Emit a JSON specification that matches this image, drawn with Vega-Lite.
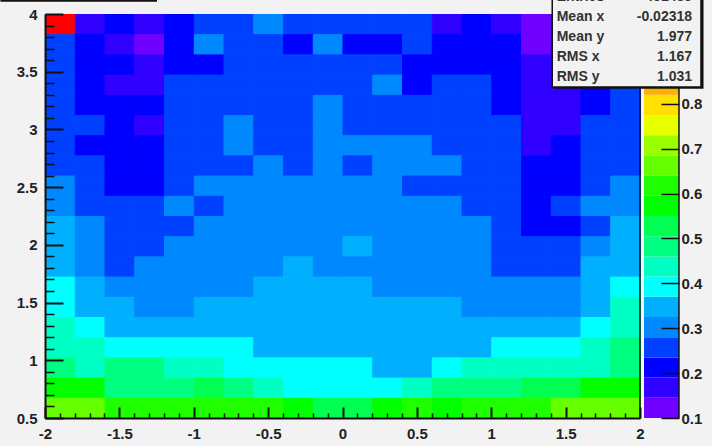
{"$schema":"https://vega.github.io/schema/vega-lite/v6.json","width":595,"height":404,"autosize":{"type":"none"},"padding":{"left":45,"top":14,"right":72,"bottom":28},"background":"#f2f2f2","config":{"view":{"stroke":null},"axis":{"grid":false,"title":null,"labelFont":"Liberation Sans","labelFontWeight":"bold","labelFontSize":15,"labelColor":"#222222","tickColor":"#111111","domainColor":"#111111"}},"datasets":{"cells":[
{"x":-1.9,"y":3.9125,"z":1.0},{"x":-1.7,"y":3.9125,"z":0.17},{"x":-1.5,"y":3.9125,"z":0.21},{"x":-1.3,"y":3.9125,"z":0.17},{"x":-1.1,"y":3.9125,"z":0.21},{"x":-0.9,"y":3.9125,"z":0.26},{"x":-0.7,"y":3.9125,"z":0.26},{"x":-0.5,"y":3.9125,"z":0.3},{"x":-0.3,"y":3.9125,"z":0.26},{"x":-0.1,"y":3.9125,"z":0.26},{"x":0.1,"y":3.9125,"z":0.26},{"x":0.3,"y":3.9125,"z":0.26},{"x":0.5,"y":3.9125,"z":0.26},{"x":0.7,"y":3.9125,"z":0.17},{"x":0.9,"y":3.9125,"z":0.21},{"x":1.1,"y":3.9125,"z":0.17},{"x":1.3,"y":3.9125,"z":0.12},{"x":1.5,"y":3.9125,"z":0.17},{"x":1.7,"y":3.9125,"z":0.21},{"x":1.9,"y":3.9125,"z":0.26},
{"x":-1.9,"y":3.7375,"z":0.26},{"x":-1.7,"y":3.7375,"z":0.21},{"x":-1.5,"y":3.7375,"z":0.17},{"x":-1.3,"y":3.7375,"z":0.12},{"x":-1.1,"y":3.7375,"z":0.21},{"x":-0.9,"y":3.7375,"z":0.3},{"x":-0.7,"y":3.7375,"z":0.26},{"x":-0.5,"y":3.7375,"z":0.26},{"x":-0.3,"y":3.7375,"z":0.21},{"x":-0.1,"y":3.7375,"z":0.3},{"x":0.1,"y":3.7375,"z":0.21},{"x":0.3,"y":3.7375,"z":0.21},{"x":0.5,"y":3.7375,"z":0.26},{"x":0.7,"y":3.7375,"z":0.21},{"x":0.9,"y":3.7375,"z":0.21},{"x":1.1,"y":3.7375,"z":0.21},{"x":1.3,"y":3.7375,"z":0.12},{"x":1.5,"y":3.7375,"z":0.17},{"x":1.7,"y":3.7375,"z":0.21},{"x":1.9,"y":3.7375,"z":0.26},
{"x":-1.9,"y":3.5625,"z":0.26},{"x":-1.7,"y":3.5625,"z":0.21},{"x":-1.5,"y":3.5625,"z":0.21},{"x":-1.3,"y":3.5625,"z":0.17},{"x":-1.1,"y":3.5625,"z":0.21},{"x":-0.9,"y":3.5625,"z":0.21},{"x":-0.7,"y":3.5625,"z":0.26},{"x":-0.5,"y":3.5625,"z":0.26},{"x":-0.3,"y":3.5625,"z":0.26},{"x":-0.1,"y":3.5625,"z":0.26},{"x":0.1,"y":3.5625,"z":0.26},{"x":0.3,"y":3.5625,"z":0.26},{"x":0.5,"y":3.5625,"z":0.21},{"x":0.7,"y":3.5625,"z":0.21},{"x":0.9,"y":3.5625,"z":0.21},{"x":1.1,"y":3.5625,"z":0.21},{"x":1.3,"y":3.5625,"z":0.17},{"x":1.5,"y":3.5625,"z":0.17},{"x":1.7,"y":3.5625,"z":0.21},{"x":1.9,"y":3.5625,"z":0.26},
{"x":-1.9,"y":3.3875,"z":0.26},{"x":-1.7,"y":3.3875,"z":0.21},{"x":-1.5,"y":3.3875,"z":0.17},{"x":-1.3,"y":3.3875,"z":0.17},{"x":-1.1,"y":3.3875,"z":0.26},{"x":-0.9,"y":3.3875,"z":0.26},{"x":-0.7,"y":3.3875,"z":0.26},{"x":-0.5,"y":3.3875,"z":0.26},{"x":-0.3,"y":3.3875,"z":0.26},{"x":-0.1,"y":3.3875,"z":0.26},{"x":0.1,"y":3.3875,"z":0.26},{"x":0.3,"y":3.3875,"z":0.3},{"x":0.5,"y":3.3875,"z":0.21},{"x":0.7,"y":3.3875,"z":0.26},{"x":0.9,"y":3.3875,"z":0.26},{"x":1.1,"y":3.3875,"z":0.21},{"x":1.3,"y":3.3875,"z":0.17},{"x":1.5,"y":3.3875,"z":0.17},{"x":1.7,"y":3.3875,"z":0.21},{"x":1.9,"y":3.3875,"z":0.26},
{"x":-1.9,"y":3.2125,"z":0.26},{"x":-1.7,"y":3.2125,"z":0.21},{"x":-1.5,"y":3.2125,"z":0.21},{"x":-1.3,"y":3.2125,"z":0.21},{"x":-1.1,"y":3.2125,"z":0.26},{"x":-0.9,"y":3.2125,"z":0.26},{"x":-0.7,"y":3.2125,"z":0.26},{"x":-0.5,"y":3.2125,"z":0.26},{"x":-0.3,"y":3.2125,"z":0.26},{"x":-0.1,"y":3.2125,"z":0.3},{"x":0.1,"y":3.2125,"z":0.26},{"x":0.3,"y":3.2125,"z":0.26},{"x":0.5,"y":3.2125,"z":0.26},{"x":0.7,"y":3.2125,"z":0.26},{"x":0.9,"y":3.2125,"z":0.26},{"x":1.1,"y":3.2125,"z":0.21},{"x":1.3,"y":3.2125,"z":0.17},{"x":1.5,"y":3.2125,"z":0.17},{"x":1.7,"y":3.2125,"z":0.21},{"x":1.9,"y":3.2125,"z":0.26},
{"x":-1.9,"y":3.0375,"z":0.26},{"x":-1.7,"y":3.0375,"z":0.26},{"x":-1.5,"y":3.0375,"z":0.21},{"x":-1.3,"y":3.0375,"z":0.17},{"x":-1.1,"y":3.0375,"z":0.26},{"x":-0.9,"y":3.0375,"z":0.26},{"x":-0.7,"y":3.0375,"z":0.3},{"x":-0.5,"y":3.0375,"z":0.26},{"x":-0.3,"y":3.0375,"z":0.26},{"x":-0.1,"y":3.0375,"z":0.3},{"x":0.1,"y":3.0375,"z":0.26},{"x":0.3,"y":3.0375,"z":0.26},{"x":0.5,"y":3.0375,"z":0.26},{"x":0.7,"y":3.0375,"z":0.26},{"x":0.9,"y":3.0375,"z":0.26},{"x":1.1,"y":3.0375,"z":0.26},{"x":1.3,"y":3.0375,"z":0.17},{"x":1.5,"y":3.0375,"z":0.17},{"x":1.7,"y":3.0375,"z":0.26},{"x":1.9,"y":3.0375,"z":0.26},
{"x":-1.9,"y":2.8625,"z":0.26},{"x":-1.7,"y":2.8625,"z":0.21},{"x":-1.5,"y":2.8625,"z":0.21},{"x":-1.3,"y":2.8625,"z":0.21},{"x":-1.1,"y":2.8625,"z":0.26},{"x":-0.9,"y":2.8625,"z":0.26},{"x":-0.7,"y":2.8625,"z":0.3},{"x":-0.5,"y":2.8625,"z":0.26},{"x":-0.3,"y":2.8625,"z":0.26},{"x":-0.1,"y":2.8625,"z":0.3},{"x":0.1,"y":2.8625,"z":0.3},{"x":0.3,"y":2.8625,"z":0.3},{"x":0.5,"y":2.8625,"z":0.3},{"x":0.7,"y":2.8625,"z":0.26},{"x":0.9,"y":2.8625,"z":0.26},{"x":1.1,"y":2.8625,"z":0.26},{"x":1.3,"y":2.8625,"z":0.17},{"x":1.5,"y":2.8625,"z":0.21},{"x":1.7,"y":2.8625,"z":0.26},{"x":1.9,"y":2.8625,"z":0.26},
{"x":-1.9,"y":2.6875,"z":0.26},{"x":-1.7,"y":2.6875,"z":0.26},{"x":-1.5,"y":2.6875,"z":0.21},{"x":-1.3,"y":2.6875,"z":0.21},{"x":-1.1,"y":2.6875,"z":0.26},{"x":-0.9,"y":2.6875,"z":0.26},{"x":-0.7,"y":2.6875,"z":0.26},{"x":-0.5,"y":2.6875,"z":0.3},{"x":-0.3,"y":2.6875,"z":0.26},{"x":-0.1,"y":2.6875,"z":0.3},{"x":0.1,"y":2.6875,"z":0.26},{"x":0.3,"y":2.6875,"z":0.3},{"x":0.5,"y":2.6875,"z":0.3},{"x":0.7,"y":2.6875,"z":0.3},{"x":0.9,"y":2.6875,"z":0.26},{"x":1.1,"y":2.6875,"z":0.26},{"x":1.3,"y":2.6875,"z":0.21},{"x":1.5,"y":2.6875,"z":0.21},{"x":1.7,"y":2.6875,"z":0.26},{"x":1.9,"y":2.6875,"z":0.26},
{"x":-1.9,"y":2.5125,"z":0.3},{"x":-1.7,"y":2.5125,"z":0.26},{"x":-1.5,"y":2.5125,"z":0.21},{"x":-1.3,"y":2.5125,"z":0.21},{"x":-1.1,"y":2.5125,"z":0.26},{"x":-0.9,"y":2.5125,"z":0.3},{"x":-0.7,"y":2.5125,"z":0.3},{"x":-0.5,"y":2.5125,"z":0.3},{"x":-0.3,"y":2.5125,"z":0.3},{"x":-0.1,"y":2.5125,"z":0.3},{"x":0.1,"y":2.5125,"z":0.3},{"x":0.3,"y":2.5125,"z":0.3},{"x":0.5,"y":2.5125,"z":0.26},{"x":0.7,"y":2.5125,"z":0.26},{"x":0.9,"y":2.5125,"z":0.26},{"x":1.1,"y":2.5125,"z":0.26},{"x":1.3,"y":2.5125,"z":0.21},{"x":1.5,"y":2.5125,"z":0.21},{"x":1.7,"y":2.5125,"z":0.26},{"x":1.9,"y":2.5125,"z":0.3},
{"x":-1.9,"y":2.3375,"z":0.3},{"x":-1.7,"y":2.3375,"z":0.26},{"x":-1.5,"y":2.3375,"z":0.26},{"x":-1.3,"y":2.3375,"z":0.26},{"x":-1.1,"y":2.3375,"z":0.3},{"x":-0.9,"y":2.3375,"z":0.26},{"x":-0.7,"y":2.3375,"z":0.3},{"x":-0.5,"y":2.3375,"z":0.3},{"x":-0.3,"y":2.3375,"z":0.3},{"x":-0.1,"y":2.3375,"z":0.3},{"x":0.1,"y":2.3375,"z":0.3},{"x":0.3,"y":2.3375,"z":0.3},{"x":0.5,"y":2.3375,"z":0.3},{"x":0.7,"y":2.3375,"z":0.3},{"x":0.9,"y":2.3375,"z":0.26},{"x":1.1,"y":2.3375,"z":0.26},{"x":1.3,"y":2.3375,"z":0.21},{"x":1.5,"y":2.3375,"z":0.26},{"x":1.7,"y":2.3375,"z":0.3},{"x":1.9,"y":2.3375,"z":0.3},
{"x":-1.9,"y":2.1625,"z":0.35},{"x":-1.7,"y":2.1625,"z":0.3},{"x":-1.5,"y":2.1625,"z":0.26},{"x":-1.3,"y":2.1625,"z":0.26},{"x":-1.1,"y":2.1625,"z":0.26},{"x":-0.9,"y":2.1625,"z":0.3},{"x":-0.7,"y":2.1625,"z":0.3},{"x":-0.5,"y":2.1625,"z":0.3},{"x":-0.3,"y":2.1625,"z":0.3},{"x":-0.1,"y":2.1625,"z":0.3},{"x":0.1,"y":2.1625,"z":0.3},{"x":0.3,"y":2.1625,"z":0.3},{"x":0.5,"y":2.1625,"z":0.3},{"x":0.7,"y":2.1625,"z":0.3},{"x":0.9,"y":2.1625,"z":0.3},{"x":1.1,"y":2.1625,"z":0.26},{"x":1.3,"y":2.1625,"z":0.21},{"x":1.5,"y":2.1625,"z":0.21},{"x":1.7,"y":2.1625,"z":0.26},{"x":1.9,"y":2.1625,"z":0.35},
{"x":-1.9,"y":1.9875,"z":0.35},{"x":-1.7,"y":1.9875,"z":0.3},{"x":-1.5,"y":1.9875,"z":0.26},{"x":-1.3,"y":1.9875,"z":0.26},{"x":-1.1,"y":1.9875,"z":0.3},{"x":-0.9,"y":1.9875,"z":0.3},{"x":-0.7,"y":1.9875,"z":0.3},{"x":-0.5,"y":1.9875,"z":0.3},{"x":-0.3,"y":1.9875,"z":0.3},{"x":-0.1,"y":1.9875,"z":0.3},{"x":0.1,"y":1.9875,"z":0.35},{"x":0.3,"y":1.9875,"z":0.3},{"x":0.5,"y":1.9875,"z":0.3},{"x":0.7,"y":1.9875,"z":0.3},{"x":0.9,"y":1.9875,"z":0.3},{"x":1.1,"y":1.9875,"z":0.26},{"x":1.3,"y":1.9875,"z":0.26},{"x":1.5,"y":1.9875,"z":0.26},{"x":1.7,"y":1.9875,"z":0.3},{"x":1.9,"y":1.9875,"z":0.35},
{"x":-1.9,"y":1.8125,"z":0.35},{"x":-1.7,"y":1.8125,"z":0.3},{"x":-1.5,"y":1.8125,"z":0.26},{"x":-1.3,"y":1.8125,"z":0.3},{"x":-1.1,"y":1.8125,"z":0.3},{"x":-0.9,"y":1.8125,"z":0.3},{"x":-0.7,"y":1.8125,"z":0.3},{"x":-0.5,"y":1.8125,"z":0.3},{"x":-0.3,"y":1.8125,"z":0.35},{"x":-0.1,"y":1.8125,"z":0.3},{"x":0.1,"y":1.8125,"z":0.3},{"x":0.3,"y":1.8125,"z":0.3},{"x":0.5,"y":1.8125,"z":0.3},{"x":0.7,"y":1.8125,"z":0.3},{"x":0.9,"y":1.8125,"z":0.3},{"x":1.1,"y":1.8125,"z":0.26},{"x":1.3,"y":1.8125,"z":0.26},{"x":1.5,"y":1.8125,"z":0.26},{"x":1.7,"y":1.8125,"z":0.35},{"x":1.9,"y":1.8125,"z":0.35},
{"x":-1.9,"y":1.6375,"z":0.39},{"x":-1.7,"y":1.6375,"z":0.35},{"x":-1.5,"y":1.6375,"z":0.3},{"x":-1.3,"y":1.6375,"z":0.3},{"x":-1.1,"y":1.6375,"z":0.3},{"x":-0.9,"y":1.6375,"z":0.3},{"x":-0.7,"y":1.6375,"z":0.3},{"x":-0.5,"y":1.6375,"z":0.35},{"x":-0.3,"y":1.6375,"z":0.35},{"x":-0.1,"y":1.6375,"z":0.35},{"x":0.1,"y":1.6375,"z":0.35},{"x":0.3,"y":1.6375,"z":0.3},{"x":0.5,"y":1.6375,"z":0.3},{"x":0.7,"y":1.6375,"z":0.3},{"x":0.9,"y":1.6375,"z":0.3},{"x":1.1,"y":1.6375,"z":0.3},{"x":1.3,"y":1.6375,"z":0.3},{"x":1.5,"y":1.6375,"z":0.3},{"x":1.7,"y":1.6375,"z":0.35},{"x":1.9,"y":1.6375,"z":0.39},
{"x":-1.9,"y":1.4625,"z":0.39},{"x":-1.7,"y":1.4625,"z":0.35},{"x":-1.5,"y":1.4625,"z":0.35},{"x":-1.3,"y":1.4625,"z":0.3},{"x":-1.1,"y":1.4625,"z":0.3},{"x":-0.9,"y":1.4625,"z":0.35},{"x":-0.7,"y":1.4625,"z":0.35},{"x":-0.5,"y":1.4625,"z":0.35},{"x":-0.3,"y":1.4625,"z":0.35},{"x":-0.1,"y":1.4625,"z":0.35},{"x":0.1,"y":1.4625,"z":0.35},{"x":0.3,"y":1.4625,"z":0.35},{"x":0.5,"y":1.4625,"z":0.35},{"x":0.7,"y":1.4625,"z":0.35},{"x":0.9,"y":1.4625,"z":0.3},{"x":1.1,"y":1.4625,"z":0.3},{"x":1.3,"y":1.4625,"z":0.3},{"x":1.5,"y":1.4625,"z":0.3},{"x":1.7,"y":1.4625,"z":0.35},{"x":1.9,"y":1.4625,"z":0.44},
{"x":-1.9,"y":1.2875,"z":0.44},{"x":-1.7,"y":1.2875,"z":0.39},{"x":-1.5,"y":1.2875,"z":0.35},{"x":-1.3,"y":1.2875,"z":0.35},{"x":-1.1,"y":1.2875,"z":0.35},{"x":-0.9,"y":1.2875,"z":0.35},{"x":-0.7,"y":1.2875,"z":0.35},{"x":-0.5,"y":1.2875,"z":0.35},{"x":-0.3,"y":1.2875,"z":0.35},{"x":-0.1,"y":1.2875,"z":0.35},{"x":0.1,"y":1.2875,"z":0.35},{"x":0.3,"y":1.2875,"z":0.35},{"x":0.5,"y":1.2875,"z":0.35},{"x":0.7,"y":1.2875,"z":0.35},{"x":0.9,"y":1.2875,"z":0.35},{"x":1.1,"y":1.2875,"z":0.35},{"x":1.3,"y":1.2875,"z":0.35},{"x":1.5,"y":1.2875,"z":0.35},{"x":1.7,"y":1.2875,"z":0.39},{"x":1.9,"y":1.2875,"z":0.44},
{"x":-1.9,"y":1.1125,"z":0.44},{"x":-1.7,"y":1.1125,"z":0.44},{"x":-1.5,"y":1.1125,"z":0.39},{"x":-1.3,"y":1.1125,"z":0.39},{"x":-1.1,"y":1.1125,"z":0.39},{"x":-0.9,"y":1.1125,"z":0.39},{"x":-0.7,"y":1.1125,"z":0.39},{"x":-0.5,"y":1.1125,"z":0.35},{"x":-0.3,"y":1.1125,"z":0.35},{"x":-0.1,"y":1.1125,"z":0.35},{"x":0.1,"y":1.1125,"z":0.35},{"x":0.3,"y":1.1125,"z":0.35},{"x":0.5,"y":1.1125,"z":0.35},{"x":0.7,"y":1.1125,"z":0.35},{"x":0.9,"y":1.1125,"z":0.35},{"x":1.1,"y":1.1125,"z":0.39},{"x":1.3,"y":1.1125,"z":0.39},{"x":1.5,"y":1.1125,"z":0.39},{"x":1.7,"y":1.1125,"z":0.44},{"x":1.9,"y":1.1125,"z":0.48},
{"x":-1.9,"y":0.9375,"z":0.48},{"x":-1.7,"y":0.9375,"z":0.44},{"x":-1.5,"y":0.9375,"z":0.48},{"x":-1.3,"y":0.9375,"z":0.48},{"x":-1.1,"y":0.9375,"z":0.44},{"x":-0.9,"y":0.9375,"z":0.44},{"x":-0.7,"y":0.9375,"z":0.39},{"x":-0.5,"y":0.9375,"z":0.39},{"x":-0.3,"y":0.9375,"z":0.39},{"x":-0.1,"y":0.9375,"z":0.39},{"x":0.1,"y":0.9375,"z":0.39},{"x":0.3,"y":0.9375,"z":0.35},{"x":0.5,"y":0.9375,"z":0.35},{"x":0.7,"y":0.9375,"z":0.39},{"x":0.9,"y":0.9375,"z":0.44},{"x":1.1,"y":0.9375,"z":0.44},{"x":1.3,"y":0.9375,"z":0.44},{"x":1.5,"y":0.9375,"z":0.44},{"x":1.7,"y":0.9375,"z":0.44},{"x":1.9,"y":0.9375,"z":0.48},
{"x":-1.9,"y":0.7625,"z":0.57},{"x":-1.7,"y":0.7625,"z":0.57},{"x":-1.5,"y":0.7625,"z":0.48},{"x":-1.3,"y":0.7625,"z":0.48},{"x":-1.1,"y":0.7625,"z":0.48},{"x":-0.9,"y":0.7625,"z":0.53},{"x":-0.7,"y":0.7625,"z":0.48},{"x":-0.5,"y":0.7625,"z":0.44},{"x":-0.3,"y":0.7625,"z":0.39},{"x":-0.1,"y":0.7625,"z":0.39},{"x":0.1,"y":0.7625,"z":0.39},{"x":0.3,"y":0.7625,"z":0.39},{"x":0.5,"y":0.7625,"z":0.44},{"x":0.7,"y":0.7625,"z":0.48},{"x":0.9,"y":0.7625,"z":0.48},{"x":1.1,"y":0.7625,"z":0.48},{"x":1.3,"y":0.7625,"z":0.53},{"x":1.5,"y":0.7625,"z":0.53},{"x":1.7,"y":0.7625,"z":0.57},{"x":1.9,"y":0.7625,"z":0.57},
{"x":-1.9,"y":0.5875,"z":0.66},{"x":-1.7,"y":0.5875,"z":0.66},{"x":-1.5,"y":0.5875,"z":0.62},{"x":-1.3,"y":0.5875,"z":0.62},{"x":-1.1,"y":0.5875,"z":0.62},{"x":-0.9,"y":0.5875,"z":0.62},{"x":-0.7,"y":0.5875,"z":0.62},{"x":-0.5,"y":0.5875,"z":0.62},{"x":-0.3,"y":0.5875,"z":0.57},{"x":-0.1,"y":0.5875,"z":0.53},{"x":0.1,"y":0.5875,"z":0.53},{"x":0.3,"y":0.5875,"z":0.57},{"x":0.5,"y":0.5875,"z":0.62},{"x":0.7,"y":0.5875,"z":0.57},{"x":0.9,"y":0.5875,"z":0.62},{"x":1.1,"y":0.5875,"z":0.62},{"x":1.3,"y":0.5875,"z":0.62},{"x":1.5,"y":0.5875,"z":0.66},{"x":1.7,"y":0.5875,"z":0.66},{"x":1.9,"y":0.5875,"z":0.66}
],"palette":[{"z":0.1225,"lo":0.1,"hi":0.145},{"z":0.1675,"lo":0.145,"hi":0.19},{"z":0.2125,"lo":0.19,"hi":0.235},{"z":0.2575,"lo":0.235,"hi":0.28},{"z":0.3025,"lo":0.28,"hi":0.325},{"z":0.3475,"lo":0.325,"hi":0.37},{"z":0.3925,"lo":0.37,"hi":0.415},{"z":0.4375,"lo":0.415,"hi":0.46},{"z":0.4825,"lo":0.46,"hi":0.505},{"z":0.5275,"lo":0.505,"hi":0.55},{"z":0.5725,"lo":0.55,"hi":0.595},{"z":0.6175,"lo":0.595,"hi":0.64},{"z":0.6625,"lo":0.64,"hi":0.685},{"z":0.7075,"lo":0.685,"hi":0.73},{"z":0.7525,"lo":0.73,"hi":0.775},{"z":0.7975,"lo":0.775,"hi":0.82},{"z":0.8425,"lo":0.82,"hi":0.865},{"z":0.8875,"lo":0.865,"hi":0.91},{"z":0.9325,"lo":0.91,"hi":0.955},{"z":0.9775,"lo":0.955,"hi":1.0}],
"stats":[{"k":"Entries","v":"491489","y":4.147},{"k":"Mean x","v":"-0.02318","y":3.974},{"k":"Mean y","v":"1.977","y":3.801},{"k":"RMS x","v":"1.167","y":3.627},{"k":"RMS y","v":"1.031","y":3.454}]},
"resolve":{"scale":{"x":"independent","y":"independent"},"axis":{"x":"independent","y":"independent"}},
"layer":[
{"data":{"name":"cells"},"mark":{"type":"rect","strokeWidth":1},"encoding":{
"x":{"field":"x","type":"quantitative","bin":{"extent":[-2,2],"step":0.2,"nice":false},"scale":{"domain":[-2,2],"nice":false,"zero":false},"axis":{"zindex":1,"orient":"bottom","values":[-2,-1.5,-1,-0.5,0,0.5,1,1.5,2],"format":"~g","labelExpr":"replace(datum.label,'−','-')","tickSize":-11,"tickWidth":2,"domainWidth":2,"labelPadding":19,"labelFlush":false,"labelOverlap":false}},
"y":{"field":"y","type":"quantitative","bin":{"extent":[0.5,4],"step":0.175,"nice":false},"scale":{"domain":[0.5,4],"nice":false,"zero":false},"axis":{"zindex":1,"orient":"left","values":[0.5,1,1.5,2,2.5,3,3.5,4],"format":"~g","tickSize":-18,"tickWidth":2,"domainWidth":2,"labelPadding":26,"labelFlush":false,"labelOverlap":false}},
"color":{"field":"z","type":"quantitative","legend":null,"scale":{"type":"threshold","domain":[0.145,0.19,0.235,0.28,0.325,0.37,0.415,0.46,0.505,0.55,0.595,0.64,0.685,0.73,0.775,0.82,0.865,0.91,0.955],"range":["#7000ff","#3000ff","#0000ff","#0040ff","#0088ff","#00b0ff","#00ffff","#00ffc4","#00ff80","#00ff50","#00ff00","#20ff00","#66ff00","#99ff00","#e8ff00","#ffe000","#ffb000","#ff8000","#ff4000","#ff0000"]}},
"stroke":{"field":"z","type":"quantitative","legend":null,"scale":{"type":"threshold","domain":[0.145,0.19,0.235,0.28,0.325,0.37,0.415,0.46,0.505,0.55,0.595,0.64,0.685,0.73,0.775,0.82,0.865,0.91,0.955],"range":["#7000ff","#3000ff","#0000ff","#0040ff","#0088ff","#00b0ff","#00ffff","#00ffc4","#00ff80","#00ff50","#00ff00","#20ff00","#66ff00","#99ff00","#e8ff00","#ffe000","#ffb000","#ff8000","#ff4000","#ff0000"]}}
}},
{"data":{"values":[{"x":0,"y":1}]},"mark":{"type":"point","opacity":0},"encoding":{
"x":{"field":"x","type":"quantitative","scale":{"domain":[-2,2],"nice":false,"zero":false},"axis":{"zindex":1,"orient":"bottom","values":[-1.9,-1.8,-1.7,-1.6,-1.4,-1.3,-1.2,-1.1,-0.9,-0.8,-0.7,-0.6,-0.4,-0.3,-0.2,-0.1,0.1,0.2,0.3,0.4,0.6,0.7,0.8,0.9,1.1,1.2,1.3,1.4,1.6,1.7,1.8,1.9],"labels":false,"domain":false,"tickSize":-5,"tickWidth":1.5}},
"y":{"field":"y","type":"quantitative","scale":{"domain":[0.5,4],"nice":false,"zero":false},"axis":{"zindex":1,"orient":"left","values":[0.6,0.7,0.8,0.9,1.1,1.2,1.3,1.4,1.6,1.7,1.8,1.9,2.1,2.2,2.3,2.4,2.6,2.7,2.8,2.9,3.1,3.2,3.3,3.4,3.6,3.7,3.8,3.9],"labels":false,"domain":false,"tickSize":-9,"tickWidth":1.5}}
}},
{"data":{"name":"palette"},"mark":{"type":"rect"},"encoding":{
"x":{"datum":2.027,"type":"quantitative","scale":{"domain":[-2,2],"nice":false,"zero":false},"axis":null},
"x2":{"datum":2.262},
"y":{"field":"lo","type":"quantitative","scale":{"domain":[0.1,1.0],"nice":false,"zero":false},"axis":{"zindex":1,"orient":"right","offset":39,"values":[0.1,0.2,0.3,0.4,0.5,0.6,0.7,0.8],"tickSize":-18,"tickWidth":1.5,"domain":false,"labelPadding":20,"labelFlush":false,"labelOverlap":false}},
"y2":{"field":"hi"},
"color":{"field":"z","type":"quantitative","legend":null,"scale":{"type":"threshold","domain":[0.145,0.19,0.235,0.28,0.325,0.37,0.415,0.46,0.505,0.55,0.595,0.64,0.685,0.73,0.775,0.82,0.865,0.91,0.955],"range":["#7000ff","#3000ff","#0000ff","#0040ff","#0088ff","#00b0ff","#00ffff","#00ffc4","#00ff80","#00ff50","#00ff00","#20ff00","#66ff00","#99ff00","#e8ff00","#ffe000","#ffb000","#ff8000","#ff4000","#ff0000"]}}
}},
{"data":{"values":[{"x":2,"a":0.5,"b":4},{"x":2.262,"a":0.5,"b":4}]},"mark":{"type":"rule","color":"#111111","strokeWidth":1.5},"encoding":{
"x":{"field":"x","type":"quantitative","scale":{"domain":[-2,2],"nice":false,"zero":false},"axis":null},
"y":{"field":"a","type":"quantitative","scale":{"domain":[0.5,4],"nice":false,"zero":false},"axis":null},
"y2":{"field":"b"}
}},
{"layer":[
{"data":{"values":[{"t":"0.9","x":2.274,"y":3.61}]},"mark":{"type":"text","align":"left","baseline":"middle","font":"Liberation Sans","fontWeight":"bold","fontSize":15,"color":"#222222"},"encoding":{"text":{"field":"t"},"x":{"field":"x","type":"quantitative"},"y":{"field":"y","type":"quantitative"}}},
{"data":{"values":[{"x":-2.3,"x2":-1.247,"y":4.117}]},"mark":{"type":"rule","color":"#111111","strokeWidth":2.5},"encoding":{"x":{"field":"x","type":"quantitative"},"x2":{"field":"x2"},"y":{"field":"y","type":"quantitative"}}},
{"data":{"values":[{"x":1.422,"x2":2.427,"y":3.352,"y2":4.3}]},"mark":{"type":"rect","fill":"#111111"},"encoding":{"x":{"field":"x","type":"quantitative"},"x2":{"field":"x2"},"y":{"field":"y","type":"quantitative"},"y2":{"field":"y2"}}},
{"data":{"values":[{"x":1.41,"x2":2.41,"y":3.368,"y2":4.3}]},"mark":{"type":"rect","fill":"#f2f2f2","stroke":"#111111","strokeWidth":1.5},"encoding":{"x":{"field":"x","type":"quantitative"},"x2":{"field":"x2"},"y":{"field":"y","type":"quantitative"},"y2":{"field":"y2"}}},
{"data":{"name":"stats"},"mark":{"type":"text","align":"left","baseline":"middle","font":"Liberation Sans","fontWeight":"bold","fontSize":14,"color":"#333333"},"encoding":{"text":{"field":"k"},"x":{"datum":1.44,"type":"quantitative"},"y":{"field":"y","type":"quantitative"}}},
{"data":{"name":"stats"},"mark":{"type":"text","align":"right","baseline":"middle","font":"Liberation Sans","fontWeight":"bold","fontSize":14,"color":"#333333"},"encoding":{"text":{"field":"v"},"x":{"datum":2.35,"type":"quantitative"},"y":{"field":"y","type":"quantitative"}}}
],"encoding":{"x":{"scale":{"domain":[-2,2],"nice":false,"zero":false},"axis":null},"y":{"scale":{"domain":[0.5,4],"nice":false,"zero":false},"axis":null}}}
]}
